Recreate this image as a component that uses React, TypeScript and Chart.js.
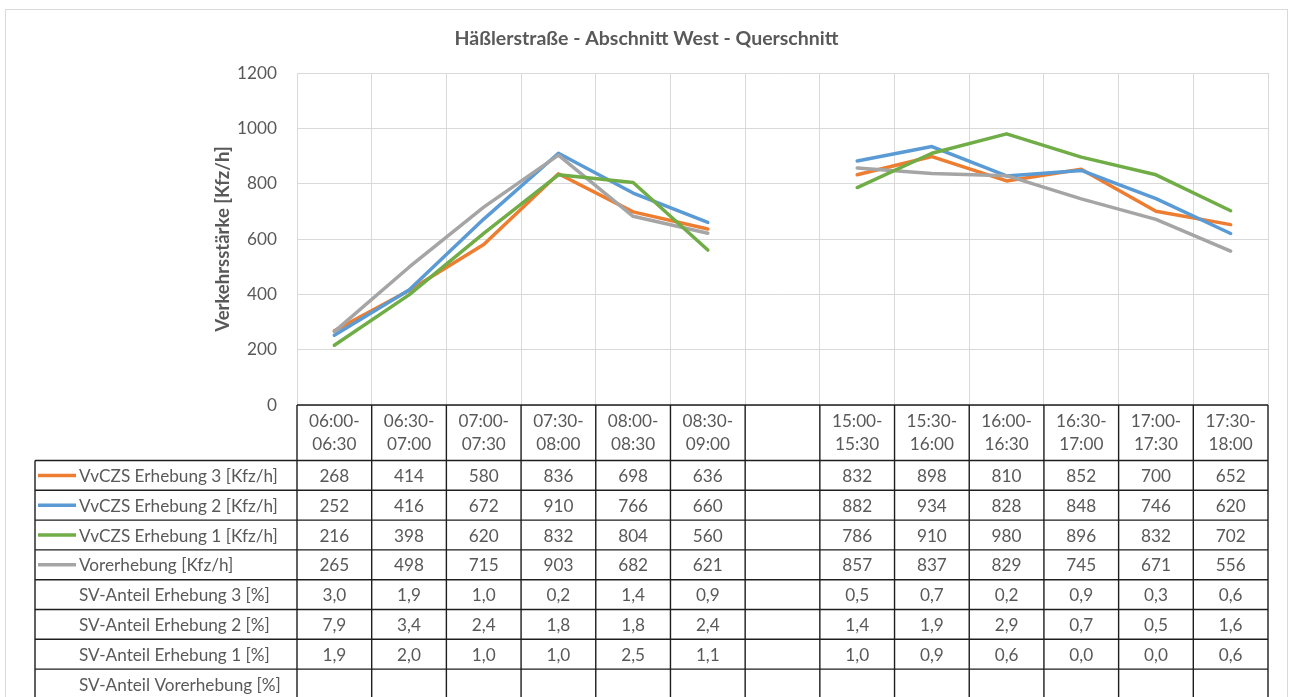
import React, { useEffect, useRef } from "react";
import { Chart, registerables } from "chart.js";

Chart.register(...registerables);

const title = "Häßlerstraße - Abschnitt West - Querschnitt";
const yAxisTitle = "Verkehrsstärke [Kfz/h]";

const timeSlots = [
  "06:00-06:30", "06:30-07:00", "07:00-07:30", "07:30-08:00", "08:00-08:30", "08:30-09:00",
  "",
  "15:00-15:30", "15:30-16:00", "16:00-16:30", "16:30-17:00", "17:00-17:30", "17:30-18:00",
];

const yTicks = [0, 200, 400, 600, 800, 1000, 1200];

const erhebung3 = [268, 414, 580, 836, 698, 636, null, 832, 898, 810, 852, 700, 652];
const erhebung2 = [252, 416, 672, 910, 766, 660, null, 882, 934, 828, 848, 746, 620];
const erhebung1 = [216, 398, 620, 832, 804, 560, null, 786, 910, 980, 896, 832, 702];
const vorerhebung = [265, 498, 715, 903, 682, 621, null, 857, 837, 829, 745, 671, 556];

const svErhebung3 = [3.0, 1.9, 1.0, 0.2, 1.4, 0.9, null, 0.5, 0.7, 0.2, 0.9, 0.3, 0.6];
const svErhebung2 = [7.9, 3.4, 2.4, 1.8, 1.8, 2.4, null, 1.4, 1.9, 2.9, 0.7, 0.5, 1.6];
const svErhebung1 = [1.9, 2.0, 1.0, 1.0, 2.5, 1.1, null, 1.0, 0.9, 0.6, 0.0, 0.0, 0.6];
const svVorerhebung = [null, null, null, null, null, null, null, null, null, null, null, null, null];

const seriesNames = [
  "VvCZS Erhebung 3 [Kfz/h]",
  "VvCZS Erhebung 2 [Kfz/h]",
  "VvCZS Erhebung 1 [Kfz/h]",
  "Vorerhebung [Kfz/h]",
];
const svNames = [
  "SV-Anteil Erhebung 3 [%]",
  "SV-Anteil Erhebung 2 [%]",
  "SV-Anteil Erhebung 1 [%]",
  "SV-Anteil Vorerhebung [%]",
];
const seriesColors = ["#ED7D31", "#5B9BD5", "#70AD47", "#A5A5A5"];
const seriesOrder = [3, 2, 0, 1];

const TEXT = "#595959";
const FONT = "Lato, 'Open Sans', sans-serif";

const tablePlugin = {
  id: "excelTable",
  beforeDraw(chart: any) {
    const ctx = chart.ctx;
    ctx.save();
    ctx.fillStyle = "#ffffff";
    ctx.fillRect(0, 0, chart.width, chart.height);
    ctx.strokeStyle = "#d9d9d9";
    ctx.lineWidth = 1;
    ctx.strokeRect(5.5, 9.5, 1282, 720);
    ctx.restore();
  },
  afterDraw(chart: any) {
    const ctx = chart.ctx;
    const area = chart.chartArea;
    const xs = chart.scales.x;
    const n = timeSlots.length;
    const colW = (area.right - area.left) / n;
    const labelLeft = 35;
    const headerTop = area.bottom;
    const headerBottom = headerTop + 55.5;
    const rowH = 29.8;
    const rows = [
      ...seriesNames.map((name, i) => ({ name, values: [erhebung3, erhebung2, erhebung1, vorerhebung][i], color: seriesColors[i], pct: false })),
      ...svNames.map((name, i) => ({ name, values: [svErhebung3, svErhebung2, svErhebung1, svVorerhebung][i], color: null as string | null, pct: true })),
    ];
    const bottom = headerBottom + rowH * rows.length;

    ctx.save();
    // title
    ctx.fillStyle = TEXT;
    ctx.font = `bold 19.5px ${FONT}`;
    ctx.textAlign = "center";
    ctx.textBaseline = "middle";
    ctx.fillText(title, chart.width / 2, 39);

    // borders
    ctx.strokeStyle = "#1e1e1e";
    ctx.lineWidth = 1.4;
    ctx.beginPath();
    ctx.moveTo(area.left, headerTop);
    ctx.lineTo(area.right, headerTop);
    for (let r = 0; r <= rows.length; r++) {
      const y = headerBottom + r * rowH;
      ctx.moveTo(labelLeft, y);
      ctx.lineTo(area.right, y);
    }
    for (let i = 0; i <= n; i++) {
      const x = area.left + i * colW;
      ctx.moveTo(x, headerTop);
      ctx.lineTo(x, bottom);
    }
    ctx.moveTo(labelLeft, headerBottom);
    ctx.lineTo(labelLeft, bottom);
    ctx.stroke();

    // header text
    ctx.fillStyle = TEXT;
    ctx.font = `17.2px ${FONT}`;
    ctx.textAlign = "center";
    ctx.textBaseline = "middle";
    timeSlots.forEach((slot, i) => {
      if (!slot) return;
      const cx = xs.getPixelForValue(i);
      const k = slot.indexOf("-");
      ctx.fillText(slot.slice(0, k + 1), cx, headerTop + 16);
      ctx.fillText(slot.slice(k + 1), cx, headerTop + 39);
    });

    // rows
    rows.forEach((row, r) => {
      const cy = headerBottom + r * rowH + rowH / 2 + 1;
      if (row.color) {
        ctx.strokeStyle = row.color;
        ctx.lineWidth = 3.5;
        ctx.beginPath();
        ctx.moveTo(38, cy - 1);
        ctx.lineTo(76, cy - 1);
        ctx.stroke();
      }
      ctx.fillStyle = TEXT;
      ctx.textAlign = "left";
      ctx.fillText(row.name, 79, cy);
      ctx.textAlign = "center";
      row.values.forEach((v: number | null, i: number) => {
        if (v === null || v === undefined) return;
        const txt = row.pct ? v.toFixed(1).replace(".", ",") : String(v);
        ctx.fillText(txt, xs.getPixelForValue(i), cy);
      });
    });
    ctx.restore();
  },
};

export default function App() {
  const ref = useRef<HTMLCanvasElement | null>(null);
  useEffect(() => {
    if (!ref.current) return;
    const allSeries = [erhebung3, erhebung2, erhebung1, vorerhebung];
    const chart = new Chart(ref.current, {
      type: "line",
      data: {
        labels: timeSlots,
        datasets: allSeries.map((d, i) => ({
          label: seriesNames[i],
          data: d,
          borderColor: seriesColors[i],
          backgroundColor: seriesColors[i],
          borderWidth: 3.5,
          pointRadius: 0,
          tension: 0,
          spanGaps: false,
          order: seriesOrder[i],
          borderCapStyle: "round",
          borderJoinStyle: "round",
        })),
      },
      options: {
        responsive: false,
        animation: false,
        devicePixelRatio: 1,
        layout: { padding: { left: 208, top: 73, right: 25, bottom: 0 } },
        plugins: { legend: { display: false }, tooltip: { enabled: false }, title: { display: false } },
        scales: {
          x: {
            type: "category",
            offset: true,
            grid: { offset: true, color: "#d9d9d9", lineWidth: 1, drawTicks: false },
            border: { display: false },
            ticks: { display: false },
            afterFit: (s: any) => { s.height = 292; },
          },
          y: {
            min: 0,
            max: 1200,
            afterBuildTicks: (s: any) => { s.ticks = yTicks.map((v) => ({ value: v })); },
            grid: { color: "#d9d9d9", lineWidth: 1, drawTicks: false },
            border: { display: false },
            ticks: { color: TEXT, font: { family: FONT, size: 17.2 }, padding: 20, callback: (v: any) => String(v) },
            title: { display: true, text: yAxisTitle, color: TEXT, font: { family: FONT, size: 18.5, weight: "bold" }, padding: { top: 4, bottom: 4 } },
            afterFit: (s: any) => { s.width = 89; },
          },
        },
      },
      plugins: [tablePlugin],
    } as any);
    return () => chart.destroy();
  }, []);
  return (
    <div style={{ position: "fixed", left: 0, top: 0, width: 1293, height: 697, background: "#fff" }}>
      <canvas ref={ref} width={1293} height={697} />
    </div>
  );
}
